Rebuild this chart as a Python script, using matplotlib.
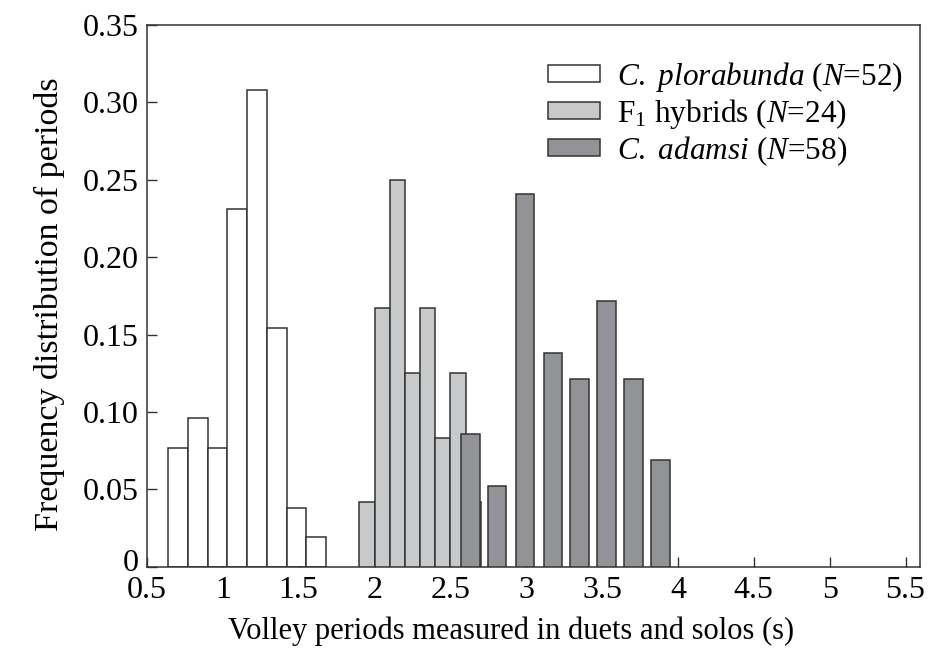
import matplotlib
matplotlib.use("Agg")
import matplotlib.pyplot as plt
import matplotlib.transforms as mtransforms
from matplotlib.patches import Patch

plt.rcParams['font.family'] = ['Liberation Serif', 'DejaVu Serif']
plt.rcParams['mathtext.fontset'] = 'custom'
plt.rcParams['mathtext.rm'] = 'Liberation Serif'
plt.rcParams['mathtext.it'] = 'Liberation Serif:italic'

# bin centres (s) and relative frequencies
plor_x = [0.705, 0.835, 0.965, 1.095, 1.225, 1.355, 1.485, 1.615]
plor_freq = [0.077, 0.096, 0.077, 0.231, 0.308, 0.154, 0.038, 0.019]

hyb_x = [1.95, 2.05, 2.15, 2.25, 2.35, 2.45, 2.55, 2.65]
hyb_freq = [0.042, 0.167, 0.250, 0.125, 0.167, 0.083, 0.125, 0.042]

adam_x = [2.632, 2.807, 2.994, 3.175, 3.352, 3.530, 3.708, 3.884]
adam_freq = [0.086, 0.052, 0.241, 0.138, 0.121, 0.172, 0.121, 0.069]

xticks = [0.5, 1, 1.5, 2, 2.5, 3, 3.5, 4, 4.5, 5, 5.5]
xtick_labels = ['0.5', '1', '1.5', '2', '2.5', '3', '3.5', '4', '4.5', '5', '5.5']
yticks = [0, 0.05, 0.10, 0.15, 0.20, 0.25, 0.30, 0.35]
ytick_labels = ['0', '0.05', '0.10', '0.15', '0.20', '0.25', '0.30', '0.35']

edge = '#333333'
c_plor = 'white'
c_hyb = '#c8c9cb'
c_adam = '#929396'

fig = plt.figure(figsize=(9.3, 6.51), dpi=100)
ax = fig.add_axes([0.158, 0.1295, 0.831, 0.832])

ax.bar(plor_x, plor_freq, width=0.13, color=c_plor, edgecolor=edge, linewidth=1.1, zorder=2)
ax.bar(hyb_x, hyb_freq, width=0.1, color=c_hyb, edgecolor=edge, linewidth=1.1, zorder=3)
ax.bar(adam_x, adam_freq, width=0.121, color=c_adam, edgecolor=edge, linewidth=1.1, zorder=4)

ax.set_xlim(0.5, 5.594)
ax.set_ylim(0, 0.35)
ax.set_xticks(xticks)
ax.set_xticklabels(xtick_labels)
ax.set_yticks(yticks)
ax.set_yticklabels(ytick_labels)
ax.tick_params(direction='in', length=7, width=1, color=edge, labelsize=23, pad=6)
ax.tick_params(axis='x', pad=7)
for s in ax.spines.values():
    s.set_color(edge)
    s.set_linewidth(1.1)

# lift the "0" a little so it clears "0.5"
zero = ax.get_yticklabels()[0]
zero.set_transform(zero.get_transform() + mtransforms.ScaledTranslation(0, 7 / 100, fig.dpi_scale_trans))

ax.set_xlabel('Volley periods measured in duets and solos (s)', fontsize=22)
ax.xaxis.set_label_coords(0.471, -0.119)
ax.xaxis.label.set_va('center')
ax.set_ylabel('Frequency distribution of periods', fontsize=24.5)
ax.yaxis.set_label_coords(-0.1255, 0.484)
ax.yaxis.label.set_va('center')

handles = [
    Patch(facecolor=c_plor, edgecolor=edge, linewidth=1.1),
    Patch(facecolor=c_hyb, edgecolor=edge, linewidth=1.1),
    Patch(facecolor=c_adam, edgecolor=edge, linewidth=1.1),
]
labels = [
    r'$\mathit{C.}$ $\mathit{plorabunda}$ ($\mathit{N}$=52)',
    r'F$_1$ hybrids ($\mathit{N}$=24)',
    r'$\mathit{C.}$ $\mathit{adamsi}$ ($\mathit{N}$=58)',
]
ax.legend(handles, labels, loc='upper left', bbox_to_anchor=(0.519, 0.936),
          frameon=False, fontsize=22.5, handlelength=1.66, handleheight=0.45,
          handletextpad=0.55, labelspacing=0.1, borderaxespad=0, borderpad=0)

fig.savefig('out.png', dpi=100)
